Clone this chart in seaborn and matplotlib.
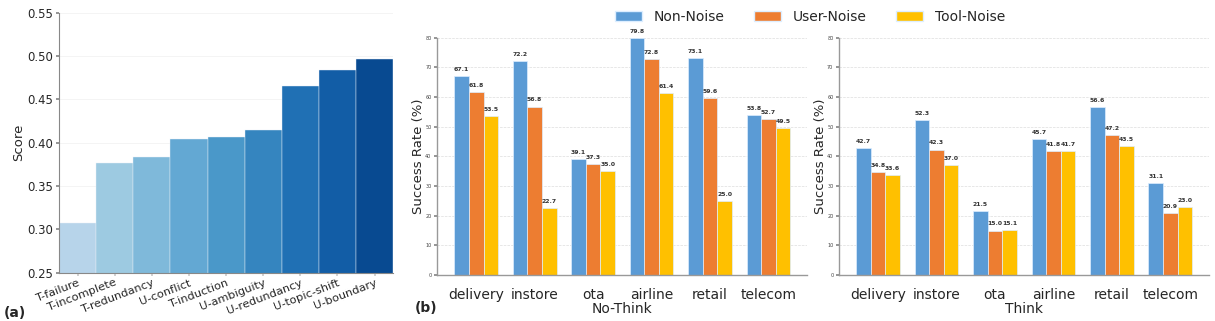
import numpy as np
import pandas as pd
import matplotlib
matplotlib.use("Agg")
import matplotlib.pyplot as plt
import seaborn as sns

# panel (a) data
noise_types = ["T-failure", "T-incomplete", "T-redundancy", "U-conflict", "T-induction",
               "U-ambiguity", "U-redundancy", "U-topic-shift", "U-boundary"]
scores = [0.307, 0.377, 0.383, 0.404, 0.406, 0.415, 0.465, 0.484, 0.496]

# panel (b) data
domains = ["delivery", "instore", "ota", "airline", "retail", "telecom"]
settings = ["Non-Noise", "User-Noise", "Tool-Noise"]
nothink_non = [67.1, 72.2, 39.1, 79.8, 73.1, 53.8]
nothink_user = [61.8, 56.8, 37.3, 72.8, 59.6, 52.7]
nothink_tool = [53.5, 22.7, 35.0, 61.4, 25.0, 49.5]
think_non = [42.7, 52.3, 21.5, 45.7, 56.6, 31.1]
think_user = [34.8, 42.3, 15.0, 41.8, 47.2, 20.9]
think_tool = [33.6, 37.0, 15.1, 41.7, 43.5, 23.0]

sns.set_theme(style="white")
plt.rcParams['font.family'] = ['DejaVu Sans']

fig = plt.figure(figsize=(12.15, 3.21), dpi=100)

# ---- (a) ----
ax_a = fig.add_axes([0.0486, 0.1505, 0.275, 0.81])
blues = [plt.cm.Blues(v) for v in np.linspace(0.3, 0.9, len(noise_types))]
df_a = pd.DataFrame({"type": noise_types, "score": scores})
sns.barplot(data=df_a, x="type", y="score", hue="type", palette=blues, width=1.0,
            legend=False, ax=ax_a, saturation=1, edgecolor="#e8f0f8", linewidth=0.3)
ax_a.set_ylim(0.25, 0.55)
ax_a.set_xlim(-0.5, len(noise_types) - 0.5)
ax_a.set_yticks(np.arange(0.25, 0.551, 0.05))
ax_a.yaxis.grid(True, color="#f2f2f2", linewidth=0.6)
ax_a.set_axisbelow(True)
ax_a.set_xlabel("")
ax_a.set_ylabel("Score", fontsize=9.5, labelpad=1)
ax_a.tick_params(axis="y", labelsize=8.4, left=True, length=2.5, color="#888888", pad=2)
ax_a.tick_params(axis="x", labelsize=8.2, bottom=True, length=2.5, color="#cccccc", pad=1)
plt.setp(ax_a.get_xticklabels(), rotation=21, ha="right", rotation_mode="anchor")
for s in ["top", "right"]:
    ax_a.spines[s].set_visible(False)
for s in ["left", "bottom"]:
    ax_a.spines[s].set_color("#888888")
    ax_a.spines[s].set_linewidth(0.8)
fig.text(0.003, 0.012, "(a)", fontsize=10, fontweight="bold")

# ---- (b) ----
colors = ["#5B9BD5", "#ED7D31", "#FFC000"]

def draw_panel(ax, non, user, tool, xlabel):
    df = pd.DataFrame({
        "domain": domains * 3,
        "rate": non + user + tool,
        "setting": [settings[0]] * 6 + [settings[1]] * 6 + [settings[2]] * 6,
    })
    sns.barplot(data=df, x="domain", y="rate", hue="setting", hue_order=settings,
                palette=colors, width=0.75, ax=ax, edgecolor="#ddeeff", linewidth=0.5,
                legend=False, saturation=1)
    for cont in ax.containers:
        ax.bar_label(cont, fmt="%.1f", padding=3, fontsize=4.4, fontweight="bold",
                     color="#333333")
    ax.set_ylim(0, 80)
    ax.set_xlim(-0.67, 5.66)
    ax.set_yticks(range(0, 81, 10))
    ax.yaxis.grid(True, linestyle="--", color="#dddddd", linewidth=0.5)
    ax.set_axisbelow(True)
    ax.set_xlabel(xlabel, fontsize=10, labelpad=0)
    ax.set_ylabel("Success Rate (%)", fontsize=9.5, labelpad=0)
    ax.tick_params(axis="y", labelsize=3.5, left=True, length=2, color="#888888",
                   labelcolor="#444444", pad=2)
    ax.tick_params(axis="x", labelsize=10, bottom=False, pad=3)
    for s in ["top", "right"]:
        ax.spines[s].set_visible(False)
    for s in ["left", "bottom"]:
        ax.spines[s].set_color("#999999")
        ax.spines[s].set_linewidth(1.0)

ax_b1 = fig.add_axes([0.3597, 0.1433, 0.3045, 0.739])
draw_panel(ax_b1, nothink_non, nothink_user, nothink_tool, "No-Think")
ax_b2 = fig.add_axes([0.6905, 0.1433, 0.3045, 0.739])
draw_panel(ax_b2, think_non, think_user, think_tool, "Think")

handles = [plt.Rectangle((0, 0), 1, 1, facecolor=c, edgecolor="#ddeeff") for c in colors]
fig.legend(handles, settings, loc="center", bbox_to_anchor=(810 / 1215, 1 - 17 / 321),
           ncol=3, frameon=False, fontsize=10, handlelength=1.95, handleheight=0.65,
           columnspacing=2.1, handletextpad=0.85)
fig.text(0.3415, 0.028, "(b)", fontsize=10, fontweight="bold")

fig.savefig("out.png", dpi=100)
